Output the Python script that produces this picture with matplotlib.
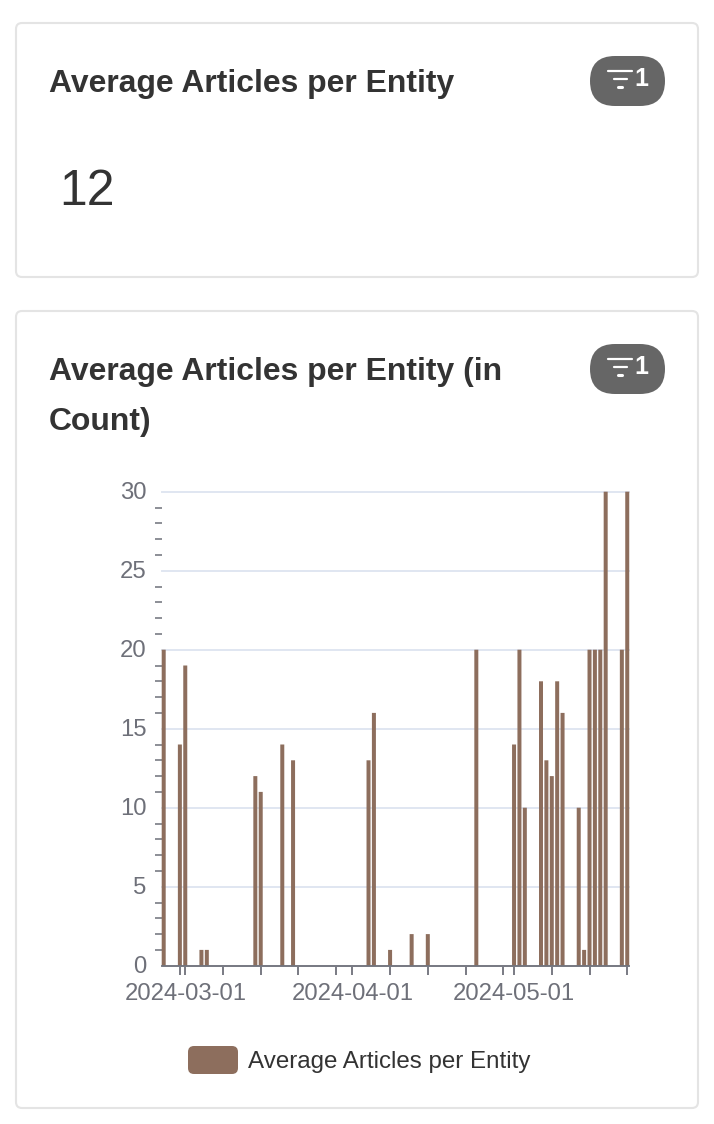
import matplotlib
matplotlib.use("Agg")
import matplotlib.pyplot as plt
import matplotlib.dates as mdates
from matplotlib.patches import FancyBboxPatch
from matplotlib.ticker import FixedLocator, NullFormatter, MultipleLocator
from matplotlib.transforms import ScaledTranslation
import pandas as pd

plt.rcParams['font.family'] = ['Liberation Sans', 'DejaVu Sans']

# ---------- data ----------
title_top = "Average Articles per Entity"
title_bottom = "Average Articles per Entity (in\nCount)"
kpi_value = "12"
series_name = "Average Articles per Entity"
badge_count = "1"
dates = ["2024-02-26", "2024-02-29", "2024-03-01", "2024-03-04", "2024-03-05",
         "2024-03-14", "2024-03-15", "2024-03-19", "2024-03-21", "2024-04-04",
         "2024-04-05", "2024-04-08", "2024-04-12", "2024-04-15", "2024-04-24",
         "2024-05-01", "2024-05-02", "2024-05-03", "2024-05-06", "2024-05-07",
         "2024-05-08", "2024-05-09", "2024-05-10", "2024-05-13", "2024-05-14",
         "2024-05-15", "2024-05-16", "2024-05-17", "2024-05-18", "2024-05-21",
         "2024-05-22"]
values = [20, 14, 19, 1, 1, 12, 11, 14, 13, 13, 16, 1, 2, 2, 20, 14, 20, 10,
          18, 13, 12, 18, 16, 10, 1, 20, 20, 20, 30, 20, 30]
x_ticks = ["2024-02-29", "2024-03-01", "2024-03-08", "2024-03-15", "2024-03-22",
           "2024-03-29", "2024-04-01", "2024-04-08", "2024-04-15", "2024-04-22",
           "2024-04-29", "2024-05-01", "2024-05-08", "2024-05-15", "2024-05-22"]
x_labelled = ["2024-03-01", "2024-04-01", "2024-05-01"]
y_major = [0, 5, 10, 15, 20, 25, 30]

# ---------- layout / style ----------
W, H = 714, 1124
INK = "#333333"
AXIS = "#6E7079"
GRID = "#E0E6F1"
BAR = "#8D6E5D"
BORDER = "#E4E4E4"
BADGE = "#666666"

fig = plt.figure(figsize=(W / 100, H / 100), dpi=100, facecolor="white")
bg = fig.add_axes([0, 0, 1, 1])
bg.set_xlim(0, W)
bg.set_ylim(H, 0)
bg.axis("off")

def card(y0, y1):
    bg.add_patch(FancyBboxPatch((16, y0), 682, y1 - y0,
                                boxstyle="round,pad=0,rounding_size=6",
                                fc="white", ec=BORDER, lw=1.5))

def badge(y0):
    bg.add_patch(FancyBboxPatch((590, y0), 75, 50,
                                boxstyle="round,pad=0,rounding_size=25",
                                fc=BADGE, ec="none"))
    bg.plot([608, 632], [y0 + 15, y0 + 15], color="white", lw=1.6, solid_capstyle="round")
    bg.plot([613.5, 626.5], [y0 + 23, y0 + 23], color="white", lw=1.6, solid_capstyle="round")
    bg.plot([618, 622], [y0 + 31, y0 + 31], color="white", lw=2.2, solid_capstyle="round")
    bg.text(641.5, y0 + 23.5, badge_count, color="white", fontsize=18, fontweight="bold",
            ha="center", va="center")

card(23, 277)
card(311, 1108)
badge(56)
badge(344)

TITLE_SIZE = 22.95
bg.text(49, 84, title_top, fontsize=TITLE_SIZE, fontweight="bold", color=INK, va="center", ha="left")
bg.text(49, 372, title_bottom.split("\n")[0], fontsize=TITLE_SIZE, fontweight="bold", color=INK, va="center", ha="left")
bg.text(49, 422, title_bottom.split("\n")[1], fontsize=TITLE_SIZE, fontweight="bold", color=INK, va="center", ha="left")
bg.text(59, 192, kpi_value, fontsize=36, color=INK, va="center", ha="left")

# legend
bg.add_patch(FancyBboxPatch((188, 1046), 50, 28,
                            boxstyle="round,pad=0,rounding_size=6", fc=BAR, ec="none"))
bg.text(248, 1062, series_name, fontsize=17.4, color=INK, va="center", ha="left")

# ---------- chart ----------
px_left, px_right, px_top, px_bottom = 162, 629, 491.7, 965.7
ax = fig.add_axes([px_left / W, 1 - px_bottom / H,
                   (px_right - px_left) / W, (px_bottom - px_top) / H])
ax.patch.set_alpha(0)

d = pd.to_datetime(dates)
xn = mdates.date2num(d)
day_px = 5.39
first_px = 163.7
ax.set_xlim(xn[0] - (first_px - px_left) / day_px, xn[0] + (px_right - first_px) / day_px)
ax.set_ylim(0, 30)
bars = ax.bar(xn, values, width=4.0 / day_px, color=BAR, zorder=3, clip_on=False)
for b in bars:
    b.set_snap(False)

for s in ["top", "right", "left"]:
    ax.spines[s].set_visible(False)
ax.spines["bottom"].set_color(AXIS)
ax.spines["bottom"].set_linewidth(1.3)
ax.spines["bottom"].set_zorder(4)

ax.set_yticks(y_major)
ax.set_yticklabels([str(v) for v in y_major])
ax.tick_params(axis="y", which="major", length=0, pad=11, labelsize=17.2, labelcolor=AXIS)
ax.yaxis.set_minor_locator(MultipleLocator(1))
ax.yaxis.set_minor_formatter(NullFormatter())
ax.tick_params(axis="y", which="minor", length=4.8, width=1.1, color=AXIS)
ax.grid(axis="y", which="major", color=GRID, lw=1.4, zorder=0, clip_on=False)
ax.set_axisbelow(True)

tick_pos = mdates.date2num(pd.to_datetime(x_ticks))
ax.set_xticks(tick_pos)
ax.set_xticklabels([t if t in x_labelled else "" for t in x_ticks])
ax.tick_params(axis="x", which="major", length=6.5, width=1.3, color=AXIS, pad=6,
               labelsize=17.2, labelcolor=AXIS)
ax.xaxis.set_minor_locator(FixedLocator([]))

up = ScaledTranslation(0, 1 / 100, fig.dpi_scale_trans)
for lab in ax.get_yticklabels():
    lab.set_transform(lab.get_transform() + up)
for line in ax.get_ygridlines():
    line.set_clip_on(False)

fig.savefig("out.png", dpi=100, facecolor="white")
